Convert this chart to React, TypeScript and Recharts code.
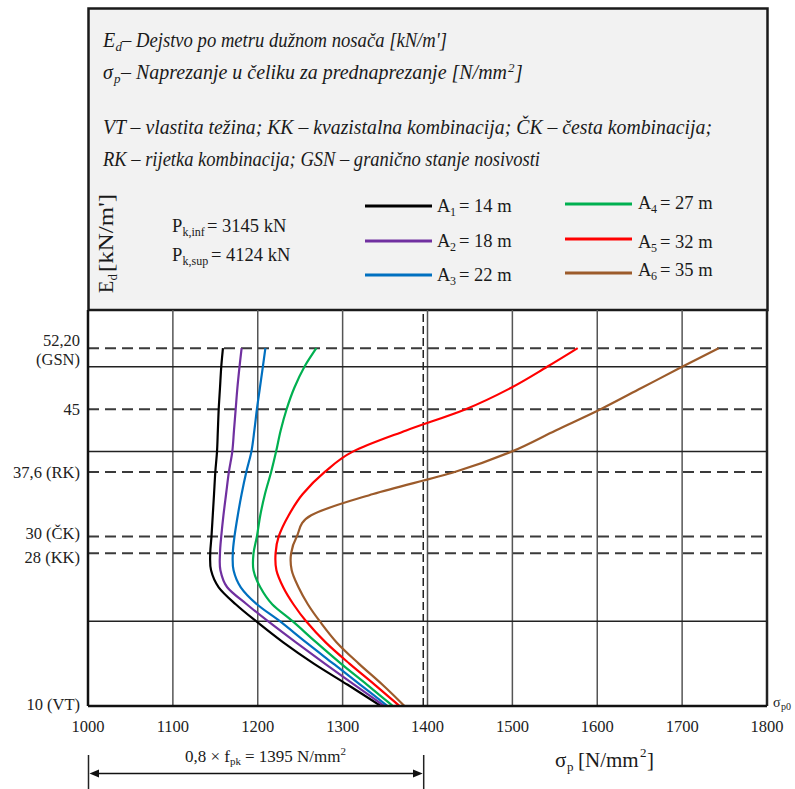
import React from 'react';
import { LineChart, Line, XAxis, YAxis, CartesianGrid, ReferenceLine, Legend } from 'recharts';

// Ed levels [kN/m'] at which the stress is read (shared by all series)
const edLevels = [10, 12.5, 15, 17.5, 20, 22, 24, 26, 28, 30, 32.5, 35, 37.6, 40, 42.5, 45, 47.5, 50, 52.2];

// sigma_p [N/mm2] for each span
const a1 = [1345, 1306, 1266, 1230, 1198, 1174, 1154, 1145, 1144, 1145.5, 1147, 1148.5, 1150, 1152, 1153, 1154, 1155.5, 1157, 1159];
const a2 = [1349, 1314, 1279, 1245, 1212, 1187, 1164, 1156, 1155.5, 1157, 1159.6, 1162.7, 1166, 1170, 1172, 1174, 1176, 1178.5, 1181];
const a3 = [1353, 1321, 1289, 1257, 1226, 1199, 1180, 1171.5, 1170.6, 1172.6, 1176.5, 1181, 1186.5, 1192.5, 1196, 1199, 1202.5, 1206, 1209];
const a4 = [1359, 1329, 1298, 1269, 1241, 1217, 1203, 1195, 1195, 1199, 1203, 1208.5, 1215.8, 1221.6, 1227, 1234, 1243, 1255, 1269];
const a5 = [1367, 1338, 1308, 1280, 1257, 1242, 1230, 1222, 1221, 1224.7, 1236.5, 1253, 1279, 1312, 1375, 1445, 1498, 1541, 1577];
const a6 = [1373, 1347, 1319, 1293, 1273, 1259, 1248, 1240, 1239.3, 1246, 1263, 1336, 1432, 1499, 1551, 1604, 1652, 1700, 1743];

const spans = [14, 18, 22, 27, 32, 35];
const seriesColors = ['#000000', '#7030A0', '#0070C0', '#00B050', '#FF0000', '#9C5B2B'];

const xTicks = [1000, 1100, 1200, 1300, 1400, 1500, 1600, 1700, 1800];
const yTicks = [10, 28, 30, 37.6, 45, 52.2];
const yTickLabels = ['10 (VT)', '28 (KK)', '30 (ČK)', '37,6 (RK)', '45', '52,20|(GSN)'];
const solidLevels = [20, 40, 50];
const dashedLevels = [28, 30, 37.6, 45, 52.2];
const stressLimit = 1395;
const pkInf = 3145;
const pkSup = 4124;

const seriesValues = [a1, a2, a3, a4, a5, a6];
const data = edLevels.map((E, i) => {
  const row: Record<string, number> = { E };
  seriesValues.forEach((s, k) => {
    row['a' + (k + 1)] = s[i];
  });
  return row;
});

const FONT = "'Liberation Serif', 'Times New Roman', serif";

// smooth parametric curve (Catmull-Rom through the data points)
function catmullRom(context: any) {
  let pts: [number, number][] = [];
  return {
    areaStart() {},
    areaEnd() {},
    lineStart() {
      pts = [];
    },
    lineEnd() {
      const n = pts.length;
      if (n === 0) return;
      context.moveTo(pts[0][0], pts[0][1]);
      if (n === 1) return;
      const t = 1 / 6;
      for (let i = 0; i < n - 1; i++) {
        const p0 = pts[Math.max(i - 1, 0)];
        const p1 = pts[i];
        const p2 = pts[i + 1];
        const p3 = pts[Math.min(i + 2, n - 1)];
        context.bezierCurveTo(
          p1[0] + (p2[0] - p0[0]) * t,
          p1[1] + (p2[1] - p0[1]) * t,
          p2[0] - (p3[0] - p1[0]) * t,
          p2[1] - (p3[1] - p1[1]) * t,
          p2[0],
          p2[1]
        );
      }
    },
    point(x: number, y: number) {
      pts.push([+x, +y]);
    },
  };
}

const yLabelShift: Record<string, number> = { '10': -2, '28': 4, '30': -3, '37.6': 1, '45': 0, '52.2': 0 };

const YTick = (props: any) => {
  const { x, y, payload } = props;
  const idx = yTicks.indexOf(payload.value);
  const label = idx >= 0 ? yTickLabels[idx] : String(payload.value);
  const parts = label.split('|');
  const shift = yLabelShift[String(payload.value)] || 0;
  if (parts.length > 1) {
    return (
      <g>
        <text x={x} y={y - 2.5} textAnchor="end" fontFamily={FONT} fontSize={16.5} fill="#222">{parts[0]}</text>
        <text x={x} y={y + 16.5} textAnchor="end" fontFamily={FONT} fontSize={16.5} fill="#222">{parts[1]}</text>
      </g>
    );
  }
  return (
    <text x={x} y={y + 5.5 + shift} textAnchor="end" fontFamily={FONT} fontSize={16.5} fill="#222">
      {label}
    </text>
  );
};

const XTick = (props: any) => {
  const { x, y, payload } = props;
  return (
    <text x={x} y={y + 18} textAnchor="middle" fontFamily={FONT} fontSize={16.5} fill="#222">
      {payload.value}
    </text>
  );
};

const legendLinePos = [
  { x1: 365, x2: 432, y: 206, tx: 437, ty: 212 },
  { x1: 365, x2: 432, y: 241, tx: 437, ty: 247 },
  { x1: 365, x2: 432, y: 275, tx: 437, ty: 281 },
  { x1: 565, x2: 632, y: 204, tx: 638, ty: 209 },
  { x1: 565, x2: 632, y: 239, tx: 638, ty: 248 },
  { x1: 565, x2: 632, y: 273, tx: 638, ty: 276 },
];

const LegendBox = (props: any) => {
  const payload = props.payload || [];
  const txt = { fontFamily: FONT, fill: '#1a1a1a' } as any;
  return (
    <svg width={795} height={310} style={{ display: 'block', pointerEvents: 'none' }}>
      <text x={172} y={232} fontSize={18.5} {...txt}>P</text>
      <text x={182.5} y={236} fontSize={12} {...txt}>k,inf</text>
      <text x={207} y={232} fontSize={18.5} {...txt}>{`= ${pkInf} kN`}</text>
      <text x={172} y={261} fontSize={18.5} {...txt}>P</text>
      <text x={182.5} y={265} fontSize={12} {...txt}>k,sup</text>
      <text x={211} y={261} fontSize={18.5} {...txt}>{`= ${pkSup} kN`}</text>
      {payload.map((entry: any, i: number) => {
        const p = legendLinePos[i];
        if (!p) return null;
        return (
          <g key={i}>
            <line x1={p.x1} x2={p.x2} y1={p.y} y2={p.y} stroke={entry.color} strokeWidth={3} />
            <text x={p.tx} y={p.ty} fontSize={18.5} {...txt}>A</text>
            <text x={p.tx + 13} y={p.ty + 4} fontSize={12} {...txt}>{i + 1}</text>
            <text x={p.tx + 22} y={p.ty} fontSize={18.5} {...txt}>{`= ${spans[i]} m`}</text>
          </g>
        );
      })}
    </svg>
  );
};

const Background = () => {
  const it = { fontFamily: FONT, fontStyle: 'italic', fill: '#1a1a1a' } as any;
  const up = { fontFamily: FONT, fill: '#1a1a1a' } as any;
  return (
    <svg width={795} height={789} style={{ position: 'absolute', left: 0, top: 0 }}>
      <rect x={88.5} y={8.5} width={679} height={301.5} fill="#F2F2F2" stroke="#1a1a1a" strokeWidth={2.5} />
      <text x={103} y={47} fontSize={20} {...it}>E</text>
      <text x={115.5} y={51} fontSize={13} {...it}>d</text>
      <text x={122} y={47} fontSize={20} {...it} textLength={325} lengthAdjust="spacingAndGlyphs">– Dejstvo po metru dužnom nosača [kN/m']</text>
      <text x={103} y={79} fontSize={20} {...it}>σ</text>
      <text x={114} y={83} fontSize={13} {...it}>p</text>
      <text x={121} y={79} fontSize={20} {...it} textLength={386} lengthAdjust="spacingAndGlyphs">– Naprezanje u čeliku za prednaprezanje [N/mm</text>
      <text x={508} y={72} fontSize={13} {...it}>2</text>
      <text x={515} y={79} fontSize={20} {...it}>]</text>
      <text x={103} y={134} fontSize={20} {...it} textLength={609} lengthAdjust="spacingAndGlyphs">
        VT – vlastita težina; KK – kvazistalna kombinacija; ČK – česta kombinacija;
      </text>
      <text x={103} y={166} fontSize={20} {...it} textLength={437} lengthAdjust="spacingAndGlyphs">
        RK – rijetka kombinacija; GSN – granično stanje nosivosti
      </text>
      <g transform="translate(112.5 293) rotate(-90)">
        <text x={0} y={0} fontSize={20} {...up}>E</text>
        <text x={12.5} y={4} fontSize={13} {...up}>d</text>
        <text x={21} y={0} fontSize={20} {...up} textLength={78} lengthAdjust="spacingAndGlyphs">[kN/m']</text>
      </g>
      <text x={185} y={762} fontSize={17} {...up}>0,8 × f</text>
      <text x={230} y={765} fontSize={11} {...up}>pk</text>
      <text x={245} y={762} fontSize={17} {...up}>= 1395 N/mm</text>
      <text x={340.5} y={755} fontSize={11} {...up}>2</text>
      <line x1={88.5} x2={88.5} y1={755} y2={789} stroke="#222" strokeWidth={1.5} />
      <line x1={423.7} x2={423.7} y1={755} y2={789} stroke="#222" strokeWidth={1.5} />
      <line x1={96} x2={416} y1={773.5} y2={773.5} stroke="#111" strokeWidth={1.5} />
      <polygon points="89.5,773.5 99,769.5 99,777.5" fill="#111" />
      <polygon points="422.7,773.5 413,769.5 413,777.5" fill="#111" />
      <text x={555} y={767} fontSize={21} {...up}>σ</text>
      <text x={567} y={771} fontSize={13} {...up}>p</text>
      <text x={578} y={767} fontSize={21} {...up}>[N/mm</text>
      <text x={640} y={757} fontSize={13} {...up}>2</text>
      <text x={647} y={767} fontSize={21} {...up}>]</text>
      <text x={773} y={707} fontSize={14} {...up}>σ</text>
      <text x={781} y={710} fontSize={10} {...up}>p0</text>
    </svg>
  );
};

export default function App() {
  return (
    <div style={{ position: 'absolute', left: 0, top: 0, width: 795, height: 789, background: '#fff' }}>
      <Background />
      <div style={{ position: 'absolute', left: 0, top: 0 }}>
        <LineChart
          width={795}
          height={789}
          data={data}
          layout="vertical"
          margin={{ top: 310, right: 28, bottom: 0, left: 0 }}
        >
          <CartesianGrid horizontal={false} vertical={true} stroke="#555" strokeWidth={1.5} />
          <XAxis
            type="number"
            dataKey="a1"
            domain={[1000, 1800]}
            ticks={xTicks}
            allowDataOverflow
            height={83}
            tickLine={false}
            axisLine={{ stroke: '#111', strokeWidth: 2.5 }}
            tick={<XTick />}
            interval={0}
          />
          <YAxis
            type="number"
            dataKey="E"
            domain={[10, 56.7]}
            ticks={yTicks}
            allowDataOverflow
            reversed
            width={88}
            tickLine={false}
            axisLine={{ stroke: '#111', strokeWidth: 2.5 }}
            tick={<YTick />}
            interval={0}
          />
          {solidLevels.map((v) => (
            <ReferenceLine key={'s' + v} y={v} stroke="#222" strokeWidth={1.5} />
          ))}
          {dashedLevels.map((v) => (
            <ReferenceLine key={'d' + v} y={v} stroke="#3a3a3a" strokeWidth={2} strokeDasharray="11 6" />
          ))}
          <ReferenceLine x={stressLimit} stroke="#222" strokeWidth={1.5} strokeDasharray="8 4" />
          <ReferenceLine x={1800} stroke="#222" strokeWidth={2.5} />
          {seriesValues.map((_, k) => (
            <Line
              key={k}
              dataKey={'a' + (k + 1)}
              name={`A${k + 1} = ${spans[k]} m`}
              type={catmullRom as any}
              stroke={seriesColors[k]}
              strokeWidth={2.2}
              dot={false}
              isAnimationActive={false}
            />
          ))}
          <Legend
            layout="vertical"
            align="center"
            verticalAlign="middle"
            content={<LegendBox />}
            wrapperStyle={{ position: 'absolute', left: 0, top: 0, width: 795, height: 310, pointerEvents: 'none' }}
          />
        </LineChart>
      </div>
    </div>
  );
}
